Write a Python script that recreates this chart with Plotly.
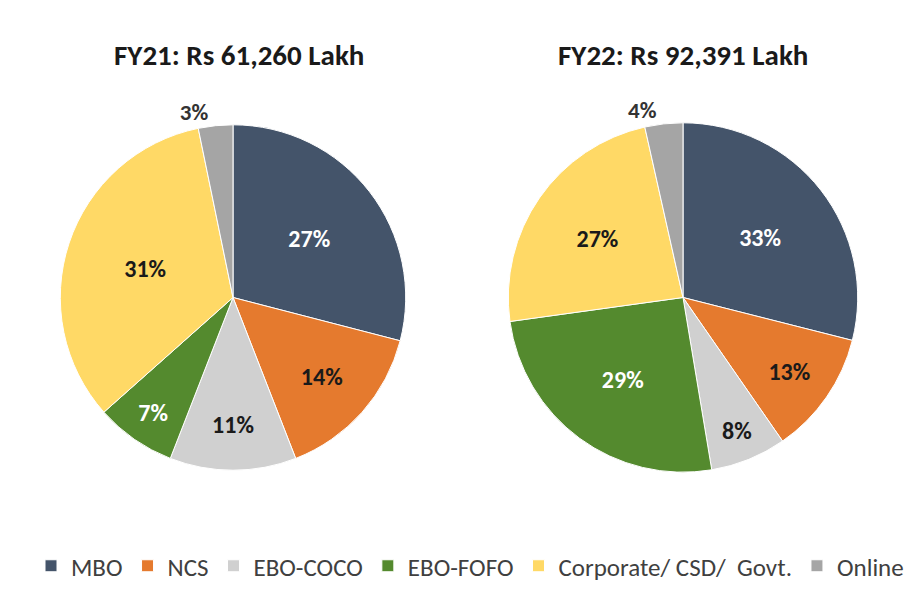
import plotly.graph_objects as go

categories = ["MBO", "NCS", "EBO-COCO", "EBO-FOFO", "Corporate/ CSD/  Govt.", "Online"]
fy21_values = [27, 14, 11, 7, 31, 3]
fy22_values = [33, 13, 8, 29, 27, 4]
titles = ["FY21: Rs 61,260 Lakh", "FY22: Rs 92,391 Lakh"]

colors = ["#44546A", "#E57A2E", "#D0D0D0", "#548A2E", "#FFD966", "#A5A5A5"]
text_colors = ["#FFFFFF", "#1A1A1A", "#1A1A1A", "#FFFFFF", "#1A1A1A", "#333333"]
positions = ["inside", "inside", "inside", "inside", "inside", "outside"]

FONT = "Carlito, 'Liberation Sans Narrow', Lato, sans-serif"

OFF = 8  # page body margin
W, H = 924 - OFF, 589 - OFF

def dom(cx, cy, r):
    cx -= OFF
    cy -= OFF
    yb = H - cy
    return dict(x=[(cx - r) / W, (cx + r) / W], y=[(yb - r) / H, (yb + r) / H])

fig = go.Figure()
for vals, d in [(fy21_values, dom(233, 298, 173)), (fy22_values, dom(683, 298, 175))]:
    fig.add_trace(go.Pie(
        labels=categories,
        values=vals,
        sort=False,
        direction="clockwise",
        rotation=0,
        domain=d,
        marker=dict(colors=colors, line=dict(color="white", width=1)),
        texttemplate="<b>%{value}%</b>",
        textposition=positions,
        insidetextorientation="horizontal",
        textfont=dict(family=FONT, size=24, color=text_colors),
        outsidetextfont=dict(family=FONT, size=23, color="#333333"),
        hoverinfo="label+value",
        showlegend=True,
    ))

for t, cx in zip(titles, [239, 683]):
    fig.add_annotation(text="<b>" + t + "</b>", x=(cx - OFF) / W, y=1 - (55 - OFF) / H,
                       xref="paper", yref="paper",
                       showarrow=False, font=dict(family=FONT, size=29, color="#1A1A1A"),
                       xanchor="center", yanchor="middle")

fig.update_layout(
    width=W, height=H,
    margin=dict(l=0, r=0, t=0, b=0),
    paper_bgcolor="white", plot_bgcolor="white",
    legend=dict(orientation="h", x=(470 - OFF) / W, xanchor="center", y=1 - (567 - OFF) / H,
                yanchor="middle",
                font=dict(family=FONT, size=25, color="#404040"), traceorder="normal",
                itemwidth=30),
)

fig.write_html("out.html")
